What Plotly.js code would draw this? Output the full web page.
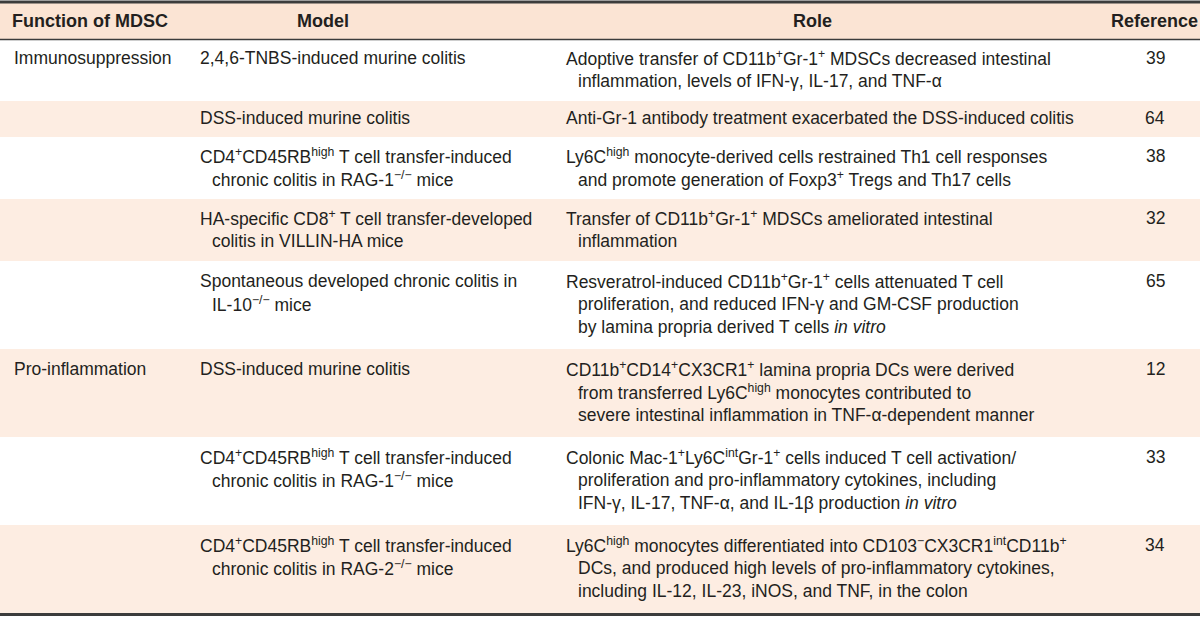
<!DOCTYPE html>
<html>
<head>
<meta charset="utf-8">
<script src="https://cdn.plot.ly/plotly-3.0.1.min.js"></script>
<style>html,body{margin:0;padding:0;background:#fff;}#chart{width:1200px;height:621px;}</style>
</head>
<body>
<div id="chart"></div>
<script>
// ---- Table content ----
const headers = ["Function of MDSC", "Model", "Role", "Reference"];

const functions = ["Immunosuppression", "", "", "", "", "Pro-inflammation", "", ""];

const models = [
  ["2,4,6-TNBS-induced murine colitis"],
  ["DSS-induced murine colitis"],
  ["CD4<sup>+</sup>CD45RB<sup>high</sup> T cell transfer-induced", "chronic colitis in RAG-1<sup>−/−</sup> mice"],
  ["HA-specific CD8<sup>+</sup> T cell transfer-developed", "colitis in VILLIN-HA mice"],
  ["Spontaneous developed chronic colitis in", "IL-10<sup>−/−</sup> mice"],
  ["DSS-induced murine colitis"],
  ["CD4<sup>+</sup>CD45RB<sup>high</sup> T cell transfer-induced", "chronic colitis in RAG-1<sup>−/−</sup> mice"],
  ["CD4<sup>+</sup>CD45RB<sup>high</sup> T cell transfer-induced", "chronic colitis in RAG-2<sup>−/−</sup> mice"]
];

const roles = [
  ["Adoptive transfer of CD11b<sup>+</sup>Gr-1<sup>+</sup> MDSCs decreased intestinal", "inflammation, levels of IFN-γ, IL-17, and TNF-α"],
  ["Anti-Gr-1 antibody treatment exacerbated the DSS-induced colitis"],
  ["Ly6C<sup>high</sup> monocyte-derived cells restrained Th1 cell responses", "and promote generation of Foxp3<sup>+</sup> Tregs and Th17 cells"],
  ["Transfer of CD11b<sup>+</sup>Gr-1<sup>+</sup> MDSCs ameliorated intestinal", "inflammation"],
  ["Resveratrol-induced CD11b<sup>+</sup>Gr-1<sup>+</sup> cells attenuated T cell", "proliferation, and reduced IFN-γ and GM-CSF production", "by lamina propria derived T cells <i>in vitro</i>"],
  ["CD11b<sup>+</sup>CD14<sup>+</sup>CX3CR1<sup>+</sup> lamina propria DCs were derived", "from transferred Ly6C<sup>high</sup> monocytes contributed to", "severe intestinal inflammation in TNF-α-dependent manner"],
  ["Colonic Mac-1<sup>+</sup>Ly6C<sup>int</sup>Gr-1<sup>+</sup> cells induced T cell activation/", "proliferation and pro-inflammatory cytokines, including", "IFN-γ, IL-17, TNF-α, and IL-1β production <i>in vitro</i>"],
  ["Ly6C<sup>high</sup> monocytes differentiated into CD103<sup>−</sup>CX3CR1<sup>int</sup>CD11b<sup>+</sup>", "DCs, and produced high levels of pro-inflammatory cytokines,", "including IL-12, IL-23, iNOS, and TNF, in the colon"]
];

const references = ["39", "64", "38", "32", "65", "12", "33", "34"];

// ---- Layout parameters (styling, not data) ----
const W = 1200, H = 621;
const FONT = "Liberation Sans, Arial, sans-serif";
const FS = 17.5, HFS = 18;
const TXT = "#231f20";
const HEAD_BG = "#fbe4d4";
const ROW_BG = "#fdede2";
const LINE_COL = "#3c3c3c";
const LINE_H = 23;
const colX = [12, 198, 564];      // left-aligned columns
const colIndent = [0, 12, 12];
const refX = 1155;                 // centered reference column
const headX = [10, 323, 812, 1154];
const tableTop = 3, headH = 36;

const shapes = [];
const annotations = [];

function ann(x, y, text, opts) {
  annotations.push(Object.assign({
    x: x, y: y, xref: "x", yref: "y", text: text, showarrow: false,
    xanchor: "left", yanchor: "middle",
    font: {family: FONT, size: FS, color: TXT}
  }, opts || {}));
}

// header
shapes.push({type: "rect", xref: "x", yref: "y", x0: 0, x1: W, y0: tableTop, y1: tableTop + headH,
  fillcolor: HEAD_BG, line: {width: 0}, layer: "below"});
headers.forEach((h, i) => {
  ann(headX[i], tableTop + headH / 2, "<b>" + h + "</b>", {
    xanchor: i === 0 ? "left" : "center",
    font: {family: FONT, size: HFS, color: TXT}
  });
});

// body rows
let y = tableTop + headH;
for (let r = 0; r < references.length; r++) {
  const n = Math.max(models[r].length, roles[r].length, 1);
  const h = 26 * n + 10;
  if (r % 2 === 1) {
    shapes.push({type: "rect", xref: "x", yref: "y", x0: 0, x1: W, y0: y, y1: y + h,
      fillcolor: ROW_BG, line: {width: 0}, layer: "below"});
  }
  const first = y + h / 2 - LINE_H * (n - 1) / 2 - 1;
  if (functions[r]) ann(colX[0], first, functions[r]);
  models[r].forEach((t, k) => ann(colX[1] + (k ? colIndent[1] : 0), first + k * LINE_H, t));
  roles[r].forEach((t, k) => ann(colX[2] + (k ? colIndent[2] : 0), first + k * LINE_H, t));
  ann(refX, first, references[r], {xanchor: "center"});
  y += h;
}
const tableBottom = y;

// rules
shapes.push({type: "line", xref: "x", yref: "y", x0: 0, x1: W, y0: tableTop - 1, y1: tableTop - 1,
  line: {color: LINE_COL, width: 3}});
shapes.push({type: "line", xref: "x", yref: "y", x0: 0, x1: W, y0: tableTop + headH + 0.5, y1: tableTop + headH + 0.5,
  line: {color: LINE_COL, width: 1.5}});
shapes.push({type: "line", xref: "x", yref: "y", x0: 0, x1: W, y0: tableBottom + 1.5, y1: tableBottom + 1.5,
  line: {color: LINE_COL, width: 3}});

const data = [{type: "scatter", x: [0, W], y: [0, H], mode: "markers",
  marker: {opacity: 0}, hoverinfo: "skip", showlegend: false}];

const layout = {
  width: W, height: H,
  margin: {l: 0, r: 0, t: 0, b: 0, pad: 0},
  paper_bgcolor: "#ffffff", plot_bgcolor: "#ffffff",
  xaxis: {range: [0, W], visible: false, fixedrange: true},
  yaxis: {range: [H, 0], visible: false, fixedrange: true},
  shapes: shapes, annotations: annotations, showlegend: false
};

Plotly.newPlot("chart", data, layout, {staticPlot: true, displayModeBar: false});
</script>
</body>
</html>
